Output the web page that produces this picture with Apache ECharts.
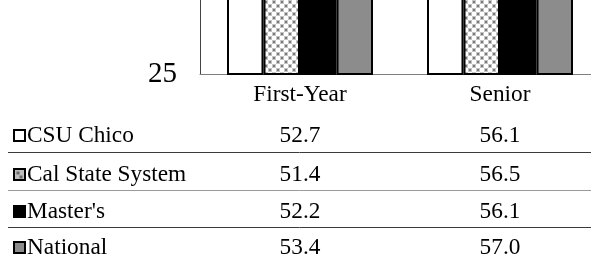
<!DOCTYPE html>
<html>
<head>
<meta charset="utf-8">
<script src="https://cdn.jsdelivr.net/npm/echarts@6/dist/echarts.min.js"></script>
<style>
html,body{margin:0;padding:0;background:#fff;}
#c{width:591px;height:264px;}
</style>
</head>
<body>
<div id="c"></div>
<script>
var categories = ['First-Year', 'Senior'];
var seriesNames = ['CSU Chico', 'Cal State System', "Master's", 'National'];
var csuChico = [52.7, 56.1];
var calState = [51.4, 56.5];
var masters = [52.2, 56.1];
var national = [53.4, 57.0];
var yTicks = [25, 50, 75];

var FONT = 'Liberation Serif';
var FS = 23.3;

function makePattern() {
  var cv = document.createElement('canvas');
  cv.width = 8; cv.height = 8;
  var ctx = cv.getContext('2d');
  ctx.fillStyle = '#ffffff';
  ctx.fillRect(0, 0, 8, 8);
  ctx.fillStyle = '#c4c4c4';
  ctx.fillRect(0, 0, 4, 4);
  ctx.fillRect(4, 4, 4, 4);
  ctx.fillStyle = '#7a7a7a';
  ctx.fillRect(1, 1, 2, 2);
  ctx.fillRect(5, 5, 2, 2);
  return cv;
}
var pat = makePattern();
var fills = ['#ffffff', {image: pat, repeat: 'repeat'}, '#000000', '#8c8c8c'];
var allValues = [csuChico, calState, masters, national];

var chart = echarts.init(document.getElementById('c'), null, {renderer: 'canvas'});

var series = seriesNames.map(function (n, i) {
  return {
    name: n,
    type: 'bar',
    data: allValues[i],
    barGap: '0%',
    barCategoryGap: '27%',
    clip: true,
    itemStyle: {color: fills[i], borderColor: '#000', borderWidth: 2},
    emphasis: {disabled: true},
    animation: false
  };
});

chart.setOption({
  animation: false,
  backgroundColor: '#fff',
  grid: {left: 200, width: 400, top: -200, height: 274, containLabel: false, outerBoundsMode: 'none'},
  xAxis: {
    type: 'category',
    data: categories,
    axisLine: {show: true, lineStyle: {color: '#7f7f7f', width: 1}},
    axisTick: {show: false},
    axisLabel: {fontFamily: FONT, fontSize: FS, color: '#000', margin: 9}
  },
  yAxis: {
    type: 'value',
    min: yTicks[0],
    max: yTicks[yTicks.length - 1],
    interval: 25,
    axisLine: {show: true, lineStyle: {color: '#444', width: 1}},
    axisTick: {show: false},
    splitLine: {show: false},
    axisLabel: {fontFamily: FONT, fontSize: 29, color: '#000', margin: 23}
  },
  series: series
});

// Data table below the chart
var rowY = [134, 173, 210, 246];
var lineY = [152.5, 190.5, 227.5];
var lineColors = ['#3a3a3a', '#9a9a9a', '#3a3a3a'];
var colX = categories.map(function (c) { return chart.convertToPixel({xAxisIndex: 0}, c); });
var iconFills = ['#ffffff', '#bdbdbd', '#000000', '#8c8c8c'];
var g = [];
seriesNames.forEach(function (n, i) {
  g.push({
    type: 'rect',
    shape: {x: 14, y: rowY[i] - 4, width: 11, height: 11},
    style: {fill: iconFills[i], stroke: '#000', lineWidth: 2},
    silent: true
  });
  if (i === 1) {
    g.push({type: 'rect', shape: {x: 16.5, y: rowY[i] - 1.5, width: 3, height: 3}, style: {fill: '#6a6a6a'}, silent: true});
    g.push({type: 'rect', shape: {x: 19.5, y: rowY[i] + 2.5, width: 3, height: 3}, style: {fill: '#6a6a6a'}, silent: true});
  }
  g.push({
    type: 'text',
    x: 27, y: rowY[i] + 2,
    style: {text: n, fontFamily: FONT, fontSize: FS, fill: '#000', align: 'left', verticalAlign: 'middle'},
    silent: true
  });
  colX.forEach(function (x, j) {
    g.push({
      type: 'text',
      x: x, y: rowY[i] + 2,
      style: {text: allValues[i][j].toFixed(1), fontFamily: FONT, fontSize: FS, fill: '#000', align: 'center', verticalAlign: 'middle'},
      silent: true
    });
  });
});
lineY.forEach(function (y, k) {
  g.push({
    type: 'line',
    shape: {x1: 8, y1: y, x2: 591, y2: y},
    style: {stroke: lineColors[k], lineWidth: 1},
    silent: true
  });
});
chart.setOption({graphic: g});
</script>
</body>
</html>
